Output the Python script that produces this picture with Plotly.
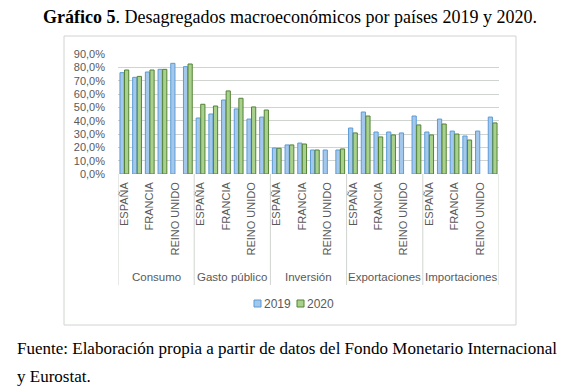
import plotly.graph_objects as go

groups = ["Consumo", "Gasto público", "Inversión", "Exportaciones", "Importaciones"]
countries = ["ESPAÑA", "ALEMANIA", "FRANCIA", "ITALIA", "REINO UNIDO", "UE"]
shown_labels = ["ESPAÑA", "FRANCIA", "REINO UNIDO"]

v2019 = [
    76, 72.5, 76.5, 78.5, 83, 80.5,      # Consumo
    42, 45, 55.5, 48.8, 41.2, 42.7,      # Gasto público
    19.5, 21.8, 23.2, 18, 18, 18,        # Inversión
    34.5, 46.5, 31.5, 31.5, 30.8, 43.5,  # Exportaciones
    31.5, 41.2, 32.2, 28.5, 32.2, 42.7,  # Importaciones
]
v2020 = [
    78, 73.2, 78, 78.5, None, 82.5,
    52.3, 51, 62.3, 56.8, 50.3, 48,
    19.3, 21.8, 22.5, 18, None, 18.8,
    30.8, 43.5, 27.8, 29.3, None, 36.8,
    29.3, 37.5, 30, 25.5, None, 38.3,
]
series_names = ["2019", "2020"]
y_ticks = [0, 10, 20, 30, 40, 50, 60, 70, 80, 90]
y_ticktext = [f"{v:.1f}".replace(".", ",") + "%" for v in y_ticks]

colors = [("#A4C8EC", "#5B9BD5"), ("#A9D18E", "#548235")]

n_c = len(countries)
xpos = list(range(len(groups) * n_c))
tickvals = [i for i in xpos if countries[i % n_c] in shown_labels]
ticktext = [countries[i % n_c] for i in tickvals]

fig = go.Figure()
for name, vals, (fc, lc) in zip(series_names, [v2019, v2020], colors):
    fig.add_trace(go.Bar(
        x=xpos, y=vals, name=name, showlegend=False,
        marker=dict(color=fc, line=dict(color=lc, width=1)),
    ))

# page body has an 8px margin; positions below are in window pixels
OFF = 8
# plot area (window px): x 118..499, y 54..174
L, W, H = 118.0, 381.0, 120.0
def px(p):
    return (p - L) / W
def py(p):
    return (174 - p) / H

shapes = []
for g in range(len(groups) + 1):
    xs = g * n_c - 0.5
    shapes.append(dict(type="line", xref="x", yref="paper", x0=xs, x1=xs,
                       y0=0, y1=py(285), line=dict(color="#D0D4D0", width=1)))
# outer chart border
shapes.append(dict(type="rect", xref="paper", yref="paper",
                   x0=px(64), x1=px(516), y0=py(325), y1=py(36),
                   line=dict(color="#D0D4D0", width=1),
                   fillcolor="rgba(0,0,0,0)", layer="below"))

annotations = []
for g, name in enumerate(groups):
    annotations.append(dict(x=g * n_c + (n_c - 1) / 2, xref="x", y=py(277), yref="paper",
                            text=name, showarrow=False,
                            font=dict(family="Liberation Sans, Arial", size=11.5, color="#595959"),
                            xanchor="center", yanchor="middle"))

# legend (manual, compact like the original)
leg_x = [254, 297]
for (fc, lc), name, lx in zip(colors, series_names, leg_x):
    shapes.append(dict(type="rect", xref="paper", yref="paper",
                       x0=px(lx), x1=px(lx + 7), y0=py(307), y1=py(300),
                       fillcolor=fc, line=dict(color=lc, width=1)))
    annotations.append(dict(x=px(lx + 8), xref="paper", y=py(303.5), yref="paper",
                            text=name, showarrow=False, xanchor="left", yanchor="middle",
                            font=dict(family="Liberation Sans, Arial", size=12, color="#595959")))

annotations.append(dict(x=px(290), xref="paper", y=py(17), yref="paper",
                        text="<b>Gráfico 5</b>. Desagregados macroeconómicos por países 2019 y 2020.",
                        showarrow=False, xanchor="center", yanchor="middle",
                        font=dict(family="Liberation Serif, Times New Roman", size=18, color="#000")))
annotations.append(dict(x=px(15), xref="paper", y=py(348), yref="paper",
                        text="Fuente: Elaboración propia a partir de datos del Fondo Monetario Internacional",
                        showarrow=False, xanchor="left", yanchor="middle",
                        font=dict(family="Liberation Serif, Times New Roman", size=17, color="#000")))
annotations.append(dict(x=px(15), xref="paper", y=py(376), yref="paper",
                        text="y Eurostat.",
                        showarrow=False, xanchor="left", yanchor="middle",
                        font=dict(family="Liberation Serif, Times New Roman", size=17, color="#000")))

fig.update_layout(
    width=578 - OFF, height=392 - OFF,
    margin=dict(l=L - OFF, r=578 - (L + W), t=54 - OFF, b=392 - 174),
    paper_bgcolor="white", plot_bgcolor="white",
    barmode="group", bargap=0.28, bargroupgap=0.08,
    showlegend=False,
    shapes=shapes, annotations=annotations,
    xaxis=dict(range=[-0.5, len(xpos) - 0.5], tickmode="array", tickvals=tickvals, ticktext=ticktext,
               tickangle=-90, showgrid=False, zeroline=False, showline=False,
               tickfont=dict(family="Liberation Sans, Arial", size=11, color="#595959"),
               ticks="", ticklabelstandoff=5, fixedrange=True),
    yaxis=dict(range=[0, 90], tickmode="array", tickvals=y_ticks, ticktext=y_ticktext,
               showgrid=True, gridcolor="#D0D4D0", gridwidth=1, zeroline=False, showline=False,
               tickfont=dict(family="Liberation Sans, Arial", size=11, color="#595959"),
               ticks="", ticklabelstandoff=12),
)

fig.write_html("out.html")
